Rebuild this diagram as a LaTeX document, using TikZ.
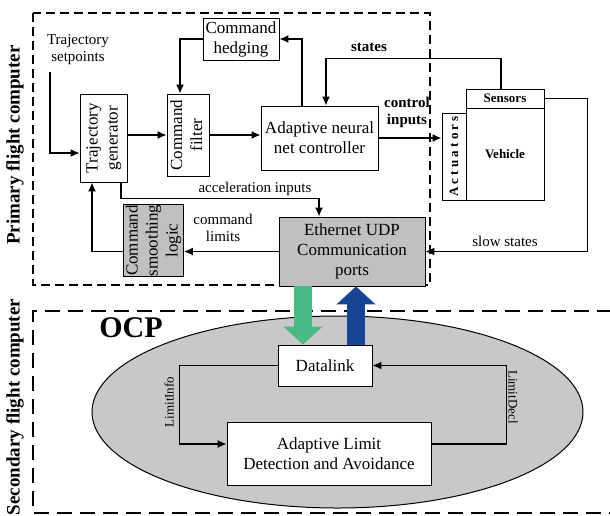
\documentclass[tikz,border=0pt]{standalone}
\usepackage{fontspec}
\setmainfont{Liberation Serif}
\usetikzlibrary{arrows.meta}
\definecolor{boxgray}{RGB}{192,192,192}
\definecolor{ellgray}{RGB}{200,200,200}
\definecolor{downgreen}{RGB}{72,187,132}
\definecolor{upblue}{RGB}{24,68,150}
\newcommand{\fs}[1]{\fontsize{#1}{#1pt}\selectfont}
\begin{document}
\begin{tikzpicture}[x=1pt,y=-1pt,
  box/.style={draw, fill=white, line width=0.8pt, inner sep=0pt, align=center, font=\fontsize{17}{20}\selectfont},
  graybox/.style={box, fill=boxgray},
  lbl/.style={align=center, font=\fontsize{15}{17}\selectfont},
  blbl/.style={lbl, font=\fontsize{15}{17}\selectfont\bfseries},
  conn/.style={line width=1.5pt, -{Latex[length=9pt,width=8pt]}},
  wire/.style={line width=1.5pt},
  bigdown/.style={line width=18pt, downgreen, -{Triangle[length=18pt,width=38pt]}},
  bigup/.style={line width=18pt, upblue, -{Triangle[length=18pt,width=38pt]}}]
\useasboundingbox (0,0) rectangle (610,515);
% dashed computer boundaries
\draw[line width=2.5pt, dash pattern=on 9pt off 5pt] (33,13) rectangle (430,285);
\draw[line width=2.5pt, dash pattern=on 15pt off 8pt] (612,311) -- (33,311) -- (33,513) -- (612,513);
\node[rotate=90, font=\fs{19}\bfseries] (pfc) at (15,145) {Primary flight computer};
\node[rotate=90, font=\fs{19}\bfseries] (sfc) at (15,407) {Secondary flight computer};
% OCP
\draw[fill=ellgray, line width=1pt] (337.5,412) ellipse [x radius=245.5pt, y radius=96pt];
\node[font=\fs{30}\bfseries] (ocp) at (131,328) {OCP};
% primary blocks
\node[box, minimum width=47, minimum height=88] (traj) at (103.5,138)
  {\rotatebox{90}{\begin{tabular}{@{}c@{}}Trajectory\\generator\end{tabular}}};
\node[box, minimum width=42, minimum height=82] (filt) at (188,135)
  {\rotatebox{90}{\begin{tabular}{@{}c@{}}Command\\filter\end{tabular}}};
\node[box, minimum width=76, minimum height=42] (hedge) at (241,39) {Command\\hedging};
\node[box, minimum width=117, minimum height=64] (ann) at (319.5,138) {Adaptive neural\\net controller};
\node[box, minimum width=24, minimum height=87] (act) at (454,156.5)
  {\rotatebox{90}{\fs{13}\bfseries A c t u a t o r s}};
\node[box, minimum width=78, minimum height=19, font=\fs{13}\bfseries] (sens) at (505,98.5) {Sensors};
\node[box, minimum width=78, minimum height=92, font=\fs{13}\bfseries] (veh) at (505,154) {Vehicle};
\node[graybox, minimum width=146, minimum height=69] (eth) at (352,251.5) {Ethernet UDP\\Communication\\ports};
\node[graybox, minimum width=53, minimum height=71] (smooth) at (153.5,240.5)
  {\rotatebox{90}{\begin{tabular}{@{}c@{}}Command\\smoothing\\logic\end{tabular}}};
% secondary blocks
\node[box, minimum width=94, minimum height=41] (dlink) at (325,365.5) {Datalink};
\node[box, minimum width=204, minimum height=63] (alda) at (329,453.5) {Adaptive Limit\\Detection and Avoidance};
% labels
\node[lbl] (sp) at (78,50) {Trajectory\\setpoints};
\coordinate (spend) at (50,72);
\node[blbl] (states) at (369,47) {states};
\node[blbl] (ctrl) at (407,112) {control\\inputs};
\node[lbl] (slow) at (505,241) {slow states};
\node[lbl] (accel) at (255,189) {acceleration inputs};
\node[lbl] (lims) at (223,228) {command\\limits};
\node[rotate=90, font=\fs{13}] (linfo) at (169,402) {LimitInfo};
\node[rotate=-90, font=\fs{13}] (ldecl) at (513,397) {LimitDecl};
% connectors
\draw[conn] (spend) |- ([yshift=-15pt]traj.west);
\draw[conn] (traj.east |- filt.west) -- (filt.west);
\draw[conn] (filt.east) -- (ann.west |- filt.east);
\draw[conn] (hedge.west) -| ([xshift=-8pt]filt.north);
\draw[conn] ([xshift=-17.5pt]ann.north) |- (hedge.east);
\draw[conn] ([xshift=-4pt]sens.north) -- ++(0,-30) -| ([xshift=6.5pt]ann.north);
\draw[conn] (ann.east) -- (act.west |- ann.east);
\draw[conn] (sens.east) -- ++(43,0) |- (eth.east);
\draw[conn] ([xshift=17.5pt]traj.south) -- ++(0,16) -| ([xshift=-33pt]eth.north);
\draw[conn] (eth.west) -- (smooth.east |- eth.west);
\draw[conn] (smooth.west |- eth.west) -| ([xshift=-11.5pt]traj.south);
\draw[conn] (dlink.west) -- ++(-98,0) |- ([yshift=9.5pt]alda.west);
\draw[conn] ([yshift=9.5pt]alda.east) -- ++(75,0) |- (dlink.east);
% data flow between computers
\draw[bigdown] ([xshift=-49pt]eth.south) -- ([xshift=-22pt]dlink.north);
\draw[bigup] ([xshift=31pt]dlink.north) -- ([xshift=4pt]eth.south);
\end{tikzpicture}
\end{document}
